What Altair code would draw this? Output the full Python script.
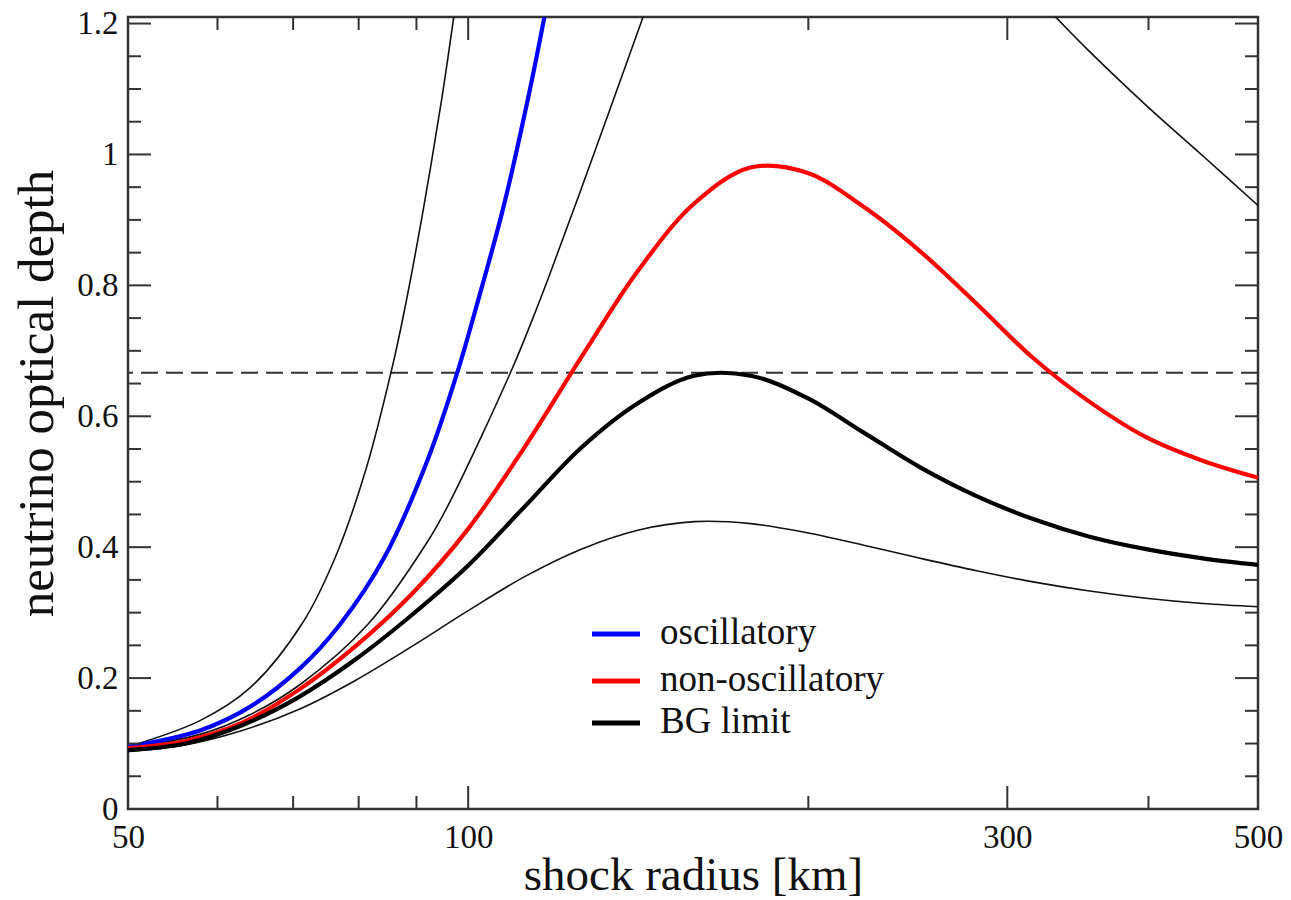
import altair as alt
import pandas as pd

# ---------------- data ----------------
# thin black curve, steepest
r_a = [50, 57.9, 64.1, 71.4, 76.3, 81.2, 85.8, 87.9, 91.2, 94.8, 97.0, 98.0]
t_a = [0.095, 0.135, 0.185, 0.285, 0.385, 0.519, 0.680, 0.765, 0.913, 1.087, 1.204, 1.26]
# thin black curve, second
r_b = [50, 57.9, 64.1, 71.1, 81.6, 92.1, 96.4, 109.4, 114.1, 118.1, 129.4, 142.4, 145.0]
t_b = [0.093, 0.114, 0.144, 0.191, 0.283, 0.409, 0.470, 0.673, 0.750, 0.817, 1.004, 1.204, 1.242]
# thin black curve, lowest
r_c = [50, 56.2, 63.1, 70.8, 79.4, 89.1, 100, 112.2, 125.9, 141.3, 158.5, 177.8, 199.5,
       223.9, 251.2, 281.8, 316.2, 354.8, 398.1, 446.7, 500]
t_c = [0.088, 0.098, 0.120, 0.152, 0.196, 0.248, 0.303, 0.355, 0.397, 0.426, 0.439, 0.436, 0.422,
       0.403, 0.383, 0.364, 0.347, 0.333, 0.322, 0.314, 0.309]
# thin black curve, upper right
r_d = [323.6, 331, 354.8, 398.1, 446.7, 500]
t_d = [1.228, 1.21, 1.157, 1.075, 0.998, 0.922]

# oscillatory (blue)
r_osc = [50, 57.9, 64.1, 71.1, 77.1, 84.4, 92.1, 97.9, 101.4, 107.4, 112.7, 116.5, 117.5]
t_osc = [0.095, 0.120, 0.156, 0.216, 0.283, 0.386, 0.534, 0.669, 0.760, 0.918, 1.077, 1.20, 1.235]
# non-oscillatory (red)
r_non = [50, 56.2, 63.1, 70.8, 79.4, 89.1, 100, 112.2, 125.9, 141.3, 158.5, 177.8, 199.5,
         223.9, 251.2, 281.8, 316.2, 354.8, 398.1, 446.7, 500]
t_non = [0.093, 0.104, 0.132, 0.182, 0.248, 0.328, 0.428, 0.553, 0.690, 0.822, 0.925, 0.980, 0.972,
         0.920, 0.852, 0.772, 0.689, 0.622, 0.568, 0.532, 0.506]
# BG limit (thick black)
r_bg = [50, 56.2, 63.1, 70.8, 79.4, 89.1, 100, 112.2, 125.9, 141.3, 158.5, 177.8, 199.5,
        223.9, 251.2, 281.8, 316.2, 354.8, 398.1, 446.7, 500]
t_bg = [0.090, 0.100, 0.128, 0.171, 0.228, 0.296, 0.372, 0.462, 0.552, 0.620, 0.662, 0.662, 0.628,
        0.575, 0.522, 0.478, 0.443, 0.416, 0.397, 0.383, 0.373]

threshold = [2 / 3]

legend_labels = ["oscillatory", "non-oscillatory", "BG limit"]
legend_colors = ["#0000ff", "#ff0000", "#000000"]

x_label_values = [50, 100, 300, 500]
x_major_ticks = [100, 300]
x_minor_ticks = [60, 70, 80, 90, 200, 400]
y_label_values = [0, 0.2, 0.4, 0.6, 0.8, 1.0, 1.2]
y_major_ticks = [0.2, 0.4, 0.6, 0.8, 1.0, 1.2]
y_minor_ticks = [0.05, 0.1, 0.15, 0.25, 0.3, 0.35, 0.45, 0.5, 0.55, 0.65, 0.7, 0.75,
                 0.85, 0.9, 0.95, 1.05, 1.1, 1.15]

# ---------------- tables ----------------
thin_rows = []
for name, rs, ts in [("A", r_a, t_a), ("B", r_b, t_b), ("C", r_c, t_c), ("D", r_d, t_d)]:
    for i, (r, t) in enumerate(zip(rs, ts)):
        thin_rows.append({"curve": name, "r": r, "tau": t, "i": i})
thin_df = pd.DataFrame(thin_rows)

thick_rows = []
for name, rs, ts in [(legend_labels[0], r_osc, t_osc), (legend_labels[1], r_non, t_non),
                     (legend_labels[2], r_bg, t_bg)]:
    for i, (r, t) in enumerate(zip(rs, ts)):
        thick_rows.append({"curve": name, "r": r, "tau": t, "i": i})
thick_df = pd.DataFrame(thick_rows)

W, H = 1130, 792
FONT = "Liberation Serif"
TXT = "#111111"
MAJ, MIN = 23, 13


def X():
    return alt.X(
        "r:Q",
        scale=alt.Scale(type="log", domain=[50, 500], nice=False, zero=False),
        axis=alt.Axis(values=x_label_values, format="d", title="shock radius [km]",
                      labelFlush=False, labelOverlap=False, labelBound=False,
                      labelBaseline="alphabetic", labelPadding=38,
                      titleY=80, titleBaseline="alphabetic", titleFontSize=47),
    )


def Y():
    return alt.Y(
        "tau:Q",
        scale=alt.Scale(domain=[0, 1.21], nice=False, zero=False),
        axis=alt.Axis(values=y_label_values, format="~g", title="neutrino optical depth",
                      labelFlush=False, labelOverlap=False, labelBound=False,
                      labelPadding=10, titleAngle=270, titleX=-76, titleY=376,
                      titleAlign="center", titleBaseline="alphabetic", titleFontSize=51),
    )


thin = alt.Chart(thin_df).mark_line(clip=True, color="#111111", strokeWidth=1.6,
                                    interpolate="catmull-rom").encode(
    x=X(), y=Y(), detail="curve:N", order="i:Q")

thick = alt.Chart(thick_df).mark_line(clip=True, strokeWidth=4.2, interpolate="catmull-rom").encode(
    x=X(), y=Y(),
    color=alt.Color("curve:N", scale=alt.Scale(domain=legend_labels, range=legend_colors), legend=None),
    order="i:Q")

dash = alt.Chart(pd.DataFrame({"tau": threshold})).mark_rule(
    color="#333333", strokeWidth=2, strokeDash=[17, 8]).encode(y=Y())

layers = [dash, thin, thick]

# inward ticks on all four sides
for vals, ln in [(x_major_ticks, MAJ), (x_minor_ticks, MIN)]:
    df = pd.DataFrame({"r": vals})
    layers.append(alt.Chart(df).mark_rule(color="#333333", strokeWidth=2).encode(
        x=X(), y=alt.value(H), y2=alt.value(H - ln)))
    layers.append(alt.Chart(df).mark_rule(color="#333333", strokeWidth=2).encode(
        x=X(), y=alt.value(0), y2=alt.value(ln)))
for vals, ln in [(y_major_ticks, MAJ), (y_minor_ticks, MIN)]:
    df = pd.DataFrame({"tau": vals})
    layers.append(alt.Chart(df).mark_rule(color="#333333", strokeWidth=2).encode(
        y=Y(), x=alt.value(0), x2=alt.value(ln)))
    layers.append(alt.Chart(df).mark_rule(color="#333333", strokeWidth=2).encode(
        y=Y(), x=alt.value(W), x2=alt.value(W - ln)))

# legend drawn inside the plot
leg_y = [617, 664, 706]
for lab, col, yy in zip(legend_labels, legend_colors, leg_y):
    df = pd.DataFrame({"label": [lab]})
    layers.append(alt.Chart(df).mark_rule(color=col, strokeWidth=5).encode(
        x=alt.value(464), x2=alt.value(512), y=alt.value(yy)))
    layers.append(alt.Chart(df).mark_text(font=FONT, fontSize=37, color=TXT, align="left",
                                          baseline="alphabetic").encode(
        text="label:N", x=alt.value(532), y=alt.value(yy + 10)))

chart = alt.layer(*layers).properties(
    width=W, height=H,
    background="white",
    autosize=alt.AutoSizeParams(type="none"),
    padding={"left": 128, "top": 17, "right": 33, "bottom": 91},
).configure_view(stroke="#333333", strokeWidth=2.5).configure_axis(
    grid=False, domain=False, ticks=False, tickSize=0,
    labelFont=FONT, titleFont=FONT, labelFontSize=33, titleFontSize=46,
    labelColor=TXT, titleColor=TXT, titleFontWeight="normal",
)

chart.save("out.html", embed_options={"renderer": "svg", "actions": False})
